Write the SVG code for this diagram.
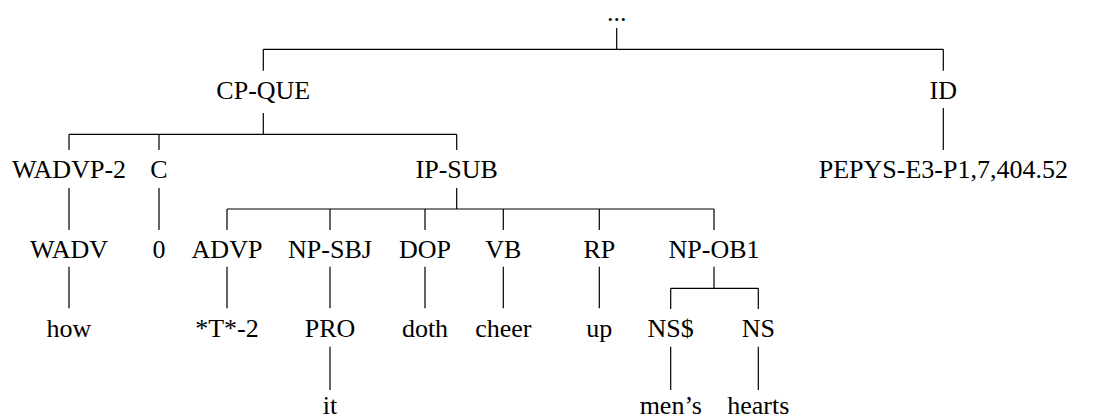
<svg xmlns="http://www.w3.org/2000/svg" width="1099" height="419" viewBox="0 0 1099 419">
<style>
.t{font-family:"Liberation Serif","DejaVu Serif","Noto Serif",Tinos,FreeSerif,"Times New Roman",Times,serif;font-size:26px;fill:#000;text-anchor:middle}
.e{stroke:#000;stroke-width:1.2;fill:none}
</style>
<rect width="1099" height="419" fill="#fff"/>
<g id="edges">
<path class="e" d="M616.7 28V49.3M263.3 49.3H943.3M263.3 49.3V70.7M943.3 49.3V70.7"/>
<path class="e" d="M263.3 113V134.3M69 134.3H456.7M69 134.3V150M159 134.3V150M456.7 134.3V150"/>
<path class="e" d="M943.3 108V150"/>
<path class="e" d="M69 188V230M159 188V230"/>
<path class="e" d="M456.7 188V209M227 209H714M227 209V230M330 209V230M425 209V230M503.3 209V230M599.3 209V230M714 209V230"/>
<path class="e" d="M69 266.7V308.3M227 266.7V308.3M330 266.7V308.3M425 266.7V308.3M503.3 266.7V308.3M599.3 266.7V308.3"/>
<path class="e" d="M714 266.7V288.3M670.7 288.3H758.3M670.7 288.3V309M758.3 288.3V309"/>
<path class="e" d="M330 346.7V390M670.7 346.7V390M758.3 346.7V390"/>
</g>
<g class="t">
<g id="n-root"><text x="616.7" y="21">...</text></g>
<g id="n-cpque"><text x="263.3" y="99">CP-QUE</text></g>
<g id="n-id"><text x="943.3" y="99">ID</text></g>
<g id="n-pepys"><text x="943.3" y="178">PEPYS-E3-P1,7,404.52</text></g>
<g id="n-wadvp"><text x="69" y="178">WADVP-2</text></g>
<g id="n-c"><text x="159" y="178">C</text></g>
<g id="n-ipsub"><text x="456.7" y="178">IP-SUB</text></g>
<g id="n-wadv"><text x="69" y="258">WADV</text></g>
<g id="n-zero"><text x="159" y="258">0</text></g>
<g id="n-advp"><text x="227" y="258">ADVP</text></g>
<g id="n-npsbj"><text x="330" y="258">NP-SBJ</text></g>
<g id="n-dop"><text x="425" y="258">DOP</text></g>
<g id="n-vb"><text x="503.3" y="258">VB</text></g>
<g id="n-rp"><text x="599.3" y="258">RP</text></g>
<g id="n-npob1"><text x="714" y="258">NP-OB1</text></g>
<g id="n-how"><text x="69" y="337.3">how</text></g>
<g id="n-t2"><text x="227" y="337.3">*T*-2</text></g>
<g id="n-pro"><text x="330" y="337.3">PRO</text></g>
<g id="n-doth"><text x="425" y="337.3">doth</text></g>
<g id="n-cheer"><text x="503.3" y="337.3">cheer</text></g>
<g id="n-up"><text x="599.3" y="337.3">up</text></g>
<g id="n-nsd"><text x="670.7" y="337.3">NS$</text></g>
<g id="n-ns"><text x="758.3" y="337.3">NS</text></g>
<g id="n-it"><text x="330" y="414">it</text></g>
<g id="n-mens"><text x="670.7" y="414">men’s</text></g>
<g id="n-hearts"><text x="758.3" y="414">hearts</text></g>
</g>
</svg>
